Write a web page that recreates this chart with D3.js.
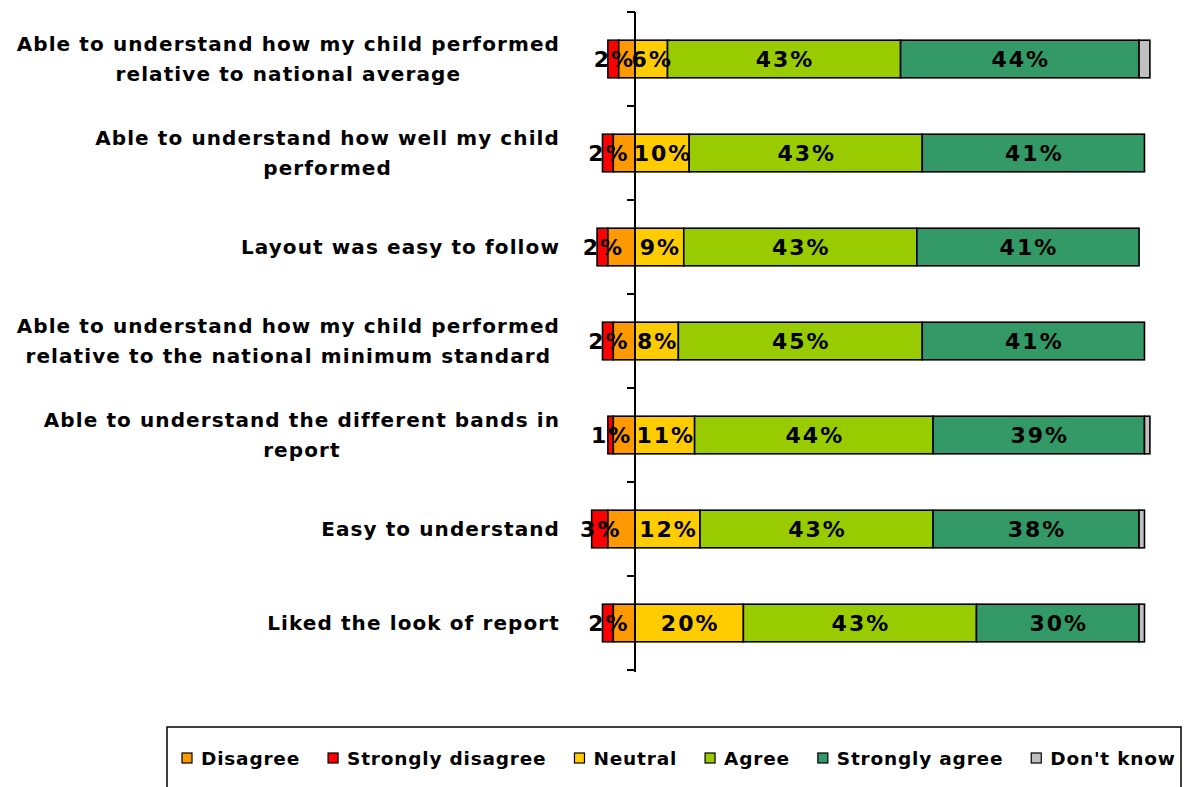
<!DOCTYPE html>
<html>
<head>
<meta charset="utf-8">
<script src="https://cdn.jsdelivr.net/npm/d3@7"></script>
<style>
  body { margin: 0; background: #fff; }
  svg { display: block; font-family: "DejaVu Sans", Verdana, sans-serif; font-weight: bold; }
</style>
</head>
<body>
<div class="data_figure"></div>
<script>
const width = 1190;
const height = 787;

// data
const categories = [
    ["Able to understand how my child performed", "relative to national average"],
    ["Able to understand how well my child", "performed"],
    ["Layout was easy to follow"],
    ["Able to understand how my child performed", "relative to the national minimum standard"],
    ["Able to understand the different bands in", "report"],
    ["Easy to understand"],
    ["Liked the look of report"]
];
const stronglyDisagree = [2, 2, 2, 2, 1, 3, 2];
const disagree = [3, 4, 5, 4, 4, 5, 4];
const neutral = [6, 10, 9, 8, 11, 12, 20];
const agree = [43, 43, 43, 45, 44, 43, 43];
const stronglyAgree = [44, 41, 41, 41, 39, 38, 30];
const dontKnow = [2, 0, 0, 0, 1, 1, 1];

const legendLabels = ["Disagree", "Strongly disagree", "Neutral", "Agree", "Strongly agree", "Don't know"];

const colors = {
    "Strongly disagree": "#ff0000",
    "Disagree": "#ff9900",
    "Neutral": "#ffcc00",
    "Agree": "#99cc00",
    "Strongly agree": "#339966",
    "Don't know": "#c0c0c0"
};

const axisX = 635;

const xScale = d3.scaleLinear()
        .domain([0, 100])
        .range([axisX, axisX + 542]);

const yScale = d3.scaleBand()
        .domain(d3.range(categories.length))
        .range([12, 670])
        .paddingInner(0.6)
        .paddingOuter(0.3);

// build segments per row
let segments = [];
categories.forEach((c, i) => {
    const sd = stronglyDisagree[i], di = disagree[i];
    segments.push({row: i, key: "Strongly disagree", x0: -(sd + di), x1: -di, v: sd, label: true});
    segments.push({row: i, key: "Disagree", x0: -di, x1: 0, v: di, label: false});
    let acc = 0;
    [["Neutral", neutral[i], true], ["Agree", agree[i], true],
     ["Strongly agree", stronglyAgree[i], true], ["Don't know", dontKnow[i], false]].forEach((s) => {
        if (s[1] > 0) {
            segments.push({row: i, key: s[0], x0: acc, x1: acc + s[1], v: s[1], label: s[2]});
        }
        acc += s[1];
    });
});

let svg = d3.select(".data_figure")
            .append("svg")
            .attr("width", width)
            .attr("height", height);

svg.selectAll(".seg")
    .data(segments)
    .enter()
    .append("rect")
    .attr("class", "seg")
    .attr("x", (d) => xScale(d.x0))
    .attr("y", (d) => yScale(d.row))
    .attr("width", (d) => xScale(d.x1) - xScale(d.x0))
    .attr("height", yScale.bandwidth())
    .attr("fill", (d) => colors[d.key])
    .attr("stroke", "#000")
    .attr("stroke-width", 1.6);

// axis with ticks on category boundaries
const tickYs = d3.range(categories.length + 1).map((i) => 12 + i * yScale.step());
svg.append("line")
    .attr("x1", axisX).attr("x2", axisX)
    .attr("y1", 12).attr("y2", 672)
    .attr("stroke", "#000")
    .attr("stroke-width", 2);
svg.selectAll(".tick")
    .data(tickYs)
    .enter()
    .append("line")
    .attr("x1", axisX - 8).attr("x2", axisX)
    .attr("y1", (d) => d).attr("y2", (d) => d)
    .attr("stroke", "#000")
    .attr("stroke-width", 2);

// value labels
svg.selectAll(".val")
    .data(segments.filter((d) => d.label))
    .enter()
    .append("text")
    .attr("class", "val")
    .attr("x", (d) => (xScale(d.x0) + xScale(d.x1)) / 2 + 1)
    .attr("y", (d) => yScale(d.row) + yScale.bandwidth() / 2)
    .attr("dy", "0.37em")
    .attr("text-anchor", "middle")
    .style("font-size", "22px")
    .style("letter-spacing", "2px")
    .attr("fill", "#000")
    .text((d) => d.v + "%");

// category labels
const labelRight = 560;
categories.forEach((lines, i) => {
    const cy = yScale(i) + yScale.bandwidth() / 2;
    let g = svg.append("g");
    let texts = lines.map((l, j) => g.append("text")
        .attr("y", cy + (j - (lines.length - 1) / 2) * 30)
        .attr("dy", "0.37em")
        .attr("text-anchor", "middle")
        .style("font-size", "20px")
        .style("letter-spacing", "1.1px")
        .attr("fill", "#000")
        .text(l));
    const maxW = d3.max(texts, (t) => t.node().getComputedTextLength());
    texts.forEach((t) => t.attr("x", labelRight - maxW / 2));
});

// legend
svg.append("rect")
    .attr("x", 167).attr("y", 727)
    .attr("width", 1014).attr("height", 90)
    .attr("fill", "#fff")
    .attr("stroke", "#000")
    .attr("stroke-width", 1.5);

let lx = 182;
legendLabels.forEach((name) => {
    svg.append("rect")
        .attr("x", lx).attr("y", 753)
        .attr("width", 10).attr("height", 10)
        .attr("fill", colors[name])
        .attr("stroke", "#000")
        .attr("stroke-width", 1.2);
    let t = svg.append("text")
        .attr("x", lx + 19)
        .attr("y", 758)
        .attr("dy", "0.37em")
        .style("font-size", "18.5px")
        .style("letter-spacing", "0.8px")
        .attr("fill", "#000")
        .text(name);
    lx += 19 + t.node().getComputedTextLength() + 28;
});
</script>
</body>
</html>
